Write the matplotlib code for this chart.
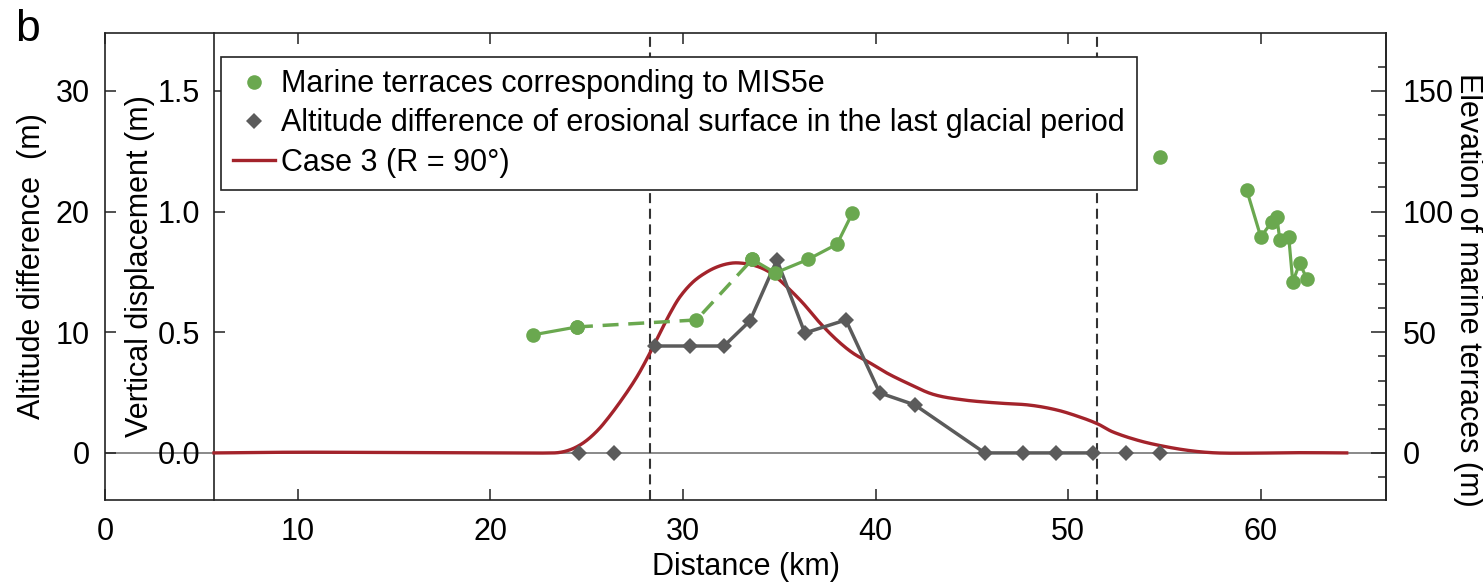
import numpy as np
import matplotlib
matplotlib.use("Agg")
import matplotlib.pyplot as plt
from matplotlib.ticker import FixedLocator, FormatStrFormatter

plt.rcParams['font.family'] = ['Liberation Sans', 'DejaVu Sans']
plt.rcParams['font.size'] = 22

# ---------------- data ----------------
# Case 3 (R = 90 deg): modelled vertical displacement along the profile
case3_km = [5.66, 8.0, 10.5, 14.0, 18.0, 21.0, 23.3, 23.8, 24.3, 24.8, 25.3, 25.85,
            26.73, 27.61, 28.29, 28.81, 29.33, 29.84, 30.52, 31.25, 31.92, 32.59,
            33.2, 33.7, 34.2, 34.7, 35.40, 36.23, 37.11, 37.99, 38.82, 39.71,
            40.59, 41.63, 42.98, 44.53, 46.30, 48.01, 49.41, 50.60, 51.54, 52.32,
            53.72, 55.12, 56.47, 57.72, 59.43, 62.0, 64.46]
case3_disp = [0.0, 0.002, 0.003, 0.002, 0.001, 0.0, 0.0, 0.005, 0.018, 0.040, 0.072, 0.118,
              0.21, 0.315, 0.414, 0.497, 0.578, 0.646, 0.708, 0.75, 0.775, 0.787,
              0.785, 0.777, 0.762, 0.738, 0.688, 0.621, 0.539, 0.468, 0.414, 0.373,
              0.331, 0.29, 0.243, 0.22, 0.207, 0.198, 0.178, 0.149, 0.12, 0.087,
              0.05, 0.025, 0.008, 0.0, -0.001, 0.001, 0.0]

# Altitude difference of the erosional surface (last glacial period)
erosion_km = [28.55, 30.36, 32.13, 33.48, 34.88, 36.33, 38.46, 40.22, 42.04,
              45.67, 47.65, 49.36, 51.28]
erosion_diff = [8.86, 8.86, 8.86, 10.94, 15.99, 9.94, 11.02, 4.97, 3.98,
                0.0, 0.0, 0.0, 0.0]
erosion_flat_km = [24.6, 26.4, 52.99, 54.76]
erosion_flat_diff = [0.0, 0.0, 0.0, 0.0]

# Marine terraces corresponding to MIS5e (elevation, m)
terrace_south_km = [22.2, 24.5]
terrace_south_elev = [48.9, 52.2]
terrace_gap_km = [24.5, 30.7, 33.6]
terrace_gap_elev = [52.2, 55.1, 80.2]
terrace_mid_km = [33.6, 34.8, 36.5, 38.0, 38.8]
terrace_mid_elev = [80.2, 74.6, 80.2, 86.5, 99.4]
terrace_single_km = [54.75]
terrace_single_elev = [122.6]
terrace_north_km = [59.27, 60.0, 60.57, 60.83, 60.99, 61.45, 61.66, 62.02, 62.39]
terrace_north_elev = [108.9, 89.5, 95.7, 97.8, 88.2, 89.5, 70.8, 78.7, 72.1]

section_bounds_km = [28.3, 51.5]
inner_axis_km = 5.66

alt_ticks = [0, 10, 20, 30]
disp_ticks = [0.0, 0.5, 1.0, 1.5]
elev_ticks = [0, 50, 100, 150]
elev_minor = [-10, 10, 20, 30, 40, 60, 70, 80, 90, 110, 120, 130, 140, 160]
dist_ticks = [0, 10, 20, 30, 40, 50, 60]


def smooth_trace(x, y, per_seg=12):
    """Cubic Hermite trace through the samples using centred-difference slopes."""
    x = np.asarray(x, float)
    y = np.asarray(y, float)
    h = np.diff(x)
    m = np.empty_like(y)
    m[1:-1] = (y[2:] - y[:-2]) / (x[2:] - x[:-2])
    m[0] = (y[1] - y[0]) / h[0]
    m[-1] = (y[-1] - y[-2]) / h[-1]
    xs, ys = [], []
    for k in range(len(x) - 1):
        t = np.linspace(0, 1, per_seg, endpoint=False)
        h00 = 2 * t**3 - 3 * t**2 + 1
        h10 = t**3 - 2 * t**2 + t
        h01 = -2 * t**3 + 3 * t**2
        h11 = t**3 - t**2
        xs.append(x[k] + t * h[k])
        ys.append(h00 * y[k] + h10 * h[k] * m[k] + h01 * y[k + 1] + h11 * h[k] * m[k + 1])
    xs.append([x[-1]])
    ys.append([y[-1]])
    return np.concatenate(xs), np.concatenate(ys)


# ---------------- style ----------------
GREEN = '#6aa84f'
GRAY = '#5b5b5b'
RED = '#a3232b'
SPINE = '#222222'

fig = plt.figure(figsize=(14.83, 5.83), dpi=100)
ax = fig.add_axes([0.0708, 0.1424, 0.8638, 0.801])   # altitude difference
ax_vd = ax.twinx()                                   # vertical displacement
ax_el = ax.twinx()                                   # terrace elevation

alt_lim = (-3.9, 34.8)
ax.set_xlim(0, 66.5)
ax.set_ylim(*alt_lim)
ax_vd.set_ylim(alt_lim[0] / 20.0, alt_lim[1] / 20.0)
ax_el.set_ylim(alt_lim[0] * 5.0, alt_lim[1] * 5.0)

# stacking: model curve at the bottom, erosion data above, terraces on top
ax_vd.set_zorder(0)
ax.set_zorder(1)
ax_el.set_zorder(2)
ax.patch.set_visible(False)

# reference lines
ax_vd.axhline(0, color='#808080', lw=1.3, zorder=1)
for xb in section_bounds_km:
    ax_vd.axvline(xb, color='#333333', lw=1.5, ls=(0, (4.8, 2.7)), zorder=1)

# model curve
cx, cy = smooth_trace(case3_km, case3_disp)
case_handle, = ax_vd.plot(cx, cy, color=RED, lw=2.4, zorder=3,
                          label='Case 3 (R = 90°)')

# erosional surface
ax.plot(erosion_km, erosion_diff, color=GRAY, lw=2.5, marker='D', ms=7.8,
        mew=0, zorder=3)
ero_handle, = ax.plot(erosion_flat_km, erosion_flat_diff, ls='none', marker='D',
                      ms=7.8, mew=0, color=GRAY, zorder=3,
                      label='Altitude difference of erosional surface in the last glacial period')

# marine terraces
ax_el.plot(terrace_south_km, terrace_south_elev, color=GREEN, lw=2.3,
           marker='o', ms=10.5, mew=0)
ax_el.plot(terrace_gap_km, terrace_gap_elev, color=GREEN, lw=2.5,
           ls=(0, (4.6, 2.8)), marker='o', ms=10.5, mew=0)
ax_el.plot(terrace_mid_km, terrace_mid_elev, color=GREEN, lw=2.3,
           marker='o', ms=10.5, mew=0)
ax_el.plot(terrace_north_km, terrace_north_elev, color=GREEN, lw=2.3,
           marker='o', ms=10.5, mew=0)
ter_handle, = ax_el.plot(terrace_single_km, terrace_single_elev, ls='none',
                         marker='o', ms=10.5, mew=0, color=GREEN,
                         label='Marine terraces corresponding to MIS5e')

# ---------------- axes ----------------
for s in ax.spines.values():
    s.set_color(SPINE)
    s.set_linewidth(1.2)

ax.set_xticks(dist_ticks)
ax.tick_params(axis='x', direction='in', top=True, length=8, width=1.1,
               pad=12, labelsize=22, color=SPINE)
ax.set_yticks(alt_ticks)
ax.tick_params(axis='y', direction='in', length=8, width=1.1, pad=11,
               labelsize=22, color=SPINE)
ax.set_xlabel('Distance (km)', fontsize=22, va='center')
ax.xaxis.set_label_coords(0.5, -0.1435)
ax.set_ylabel('Altitude difference  (m)', fontsize=22, va='center')
ax.yaxis.set_label_coords(-0.057, 0.5)

# inner displacement axis
for side in ('right', 'top', 'bottom'):
    ax_vd.spines[side].set_visible(False)
ax_vd.spines['left'].set_position(('data', inner_axis_km))
ax_vd.spines['left'].set_color(SPINE)
ax_vd.spines['left'].set_linewidth(1.2)
ax_vd.yaxis.set_ticks_position('left')
ax_vd.yaxis.set_label_position('left')
ax_vd.set_yticks(disp_ticks)
ax_vd.yaxis.set_major_formatter(FormatStrFormatter('%.1f'))
ax_vd.tick_params(axis='y', direction='in', length=8, width=1.1, pad=10,
                  labelsize=22, color=SPINE)
ax_vd.set_ylabel('Vertical displacement (m)', fontsize=22, va='center')
ax_vd.yaxis.set_label_coords(0.0273, 0.5)

# right elevation axis
for side in ('left', 'top', 'bottom'):
    ax_el.spines[side].set_visible(False)
ax_el.spines['right'].set_color(SPINE)
ax_el.spines['right'].set_linewidth(1.2)
ax_el.set_yticks(elev_ticks)
ax_el.yaxis.set_minor_locator(FixedLocator(elev_minor))
ax_el.tick_params(axis='y', which='major', direction='in', length=11,
                  width=1.1, pad=12, labelsize=22, color=SPINE)
ax_el.tick_params(axis='y', which='minor', direction='in', length=6,
                  width=1.1, color=SPINE)
ax_el.set_ylabel('Elevation of marine terraces (m)', fontsize=22,
                 rotation=-90, va='center', ha='center')
ax_el.yaxis.set_label_coords(1.064, 0.45)

# legend
leg = ax_el.legend([ter_handle, ero_handle, case_handle],
                   [ter_handle.get_label(), ero_handle.get_label(),
                    case_handle.get_label()],
                   loc='upper left', bbox_to_anchor=(0.0906, 0.9486),
                   borderaxespad=0, fontsize=22, frameon=True, fancybox=False,
                   framealpha=1, edgecolor=SPINE, borderpad=0.4,
                   handlelength=1.37, handletextpad=0.2, labelspacing=0.3,
                   numpoints=1)
leg.get_frame().set_linewidth(1.2)

fig.text(0.010, 0.985, 'b', fontsize=32, va='top', ha='left')

fig.savefig('out.png', dpi=100)
